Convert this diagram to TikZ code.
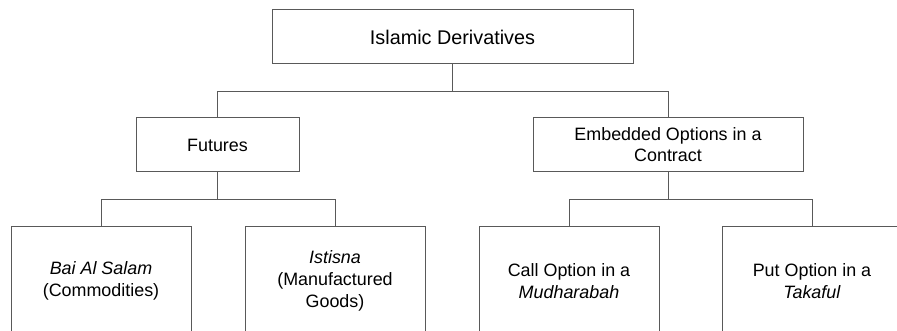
\documentclass[tikz,border=0pt]{standalone}
\usepackage{fontspec}
\setmainfont{Liberation Sans}
\definecolor{edge}{HTML}{595959}
\begin{document}
\begin{tikzpicture}[x=1pt,y=-1pt,
  box/.style={draw=edge,line width=1pt,fill=white,align=center,inner sep=0pt,
    font=\fontsize{17.9}{22}\selectfont,text=black},
  topbox/.style={box,minimum width=361pt,minimum height=54pt,font=\fontsize{19.8}{23}\selectfont},
  midbox/.style={box,minimum height=54pt},
  leafbox/.style={box,minimum width=180pt,minimum height=108pt},
  conn/.style={draw=edge,line width=1pt}]
\useasboundingbox (0,0) rectangle (897,331);
\clip (0,0) rectangle (897,331);
\node[topbox] (top) at (452.5,37) {Islamic Derivatives};
\node[midbox,minimum width=163pt] (fut) at (217.5,145) {Futures};
\node[midbox,minimum width=270pt,font=\fontsize{17.9}{21}\selectfont] (emb) at (668,145) {Embedded Options in a\\Contract};
\node[leafbox] (bai) at (101,281) {\textit{Bai Al Salam}\\(Commodities)};
\node[leafbox] (ist) at (335,281) {\textit{Istisna}\\(Manufactured\\Goods)};
\node[leafbox] (call) at (569,281) {Call Option in a\\\textit{Mudharabah}};
\node[leafbox] (put) at (812,281) {Put Option in a\\\textit{Takaful}};
\path[conn] (top.south) -- ++(0,27) coordinate (j1);
\path[conn] (fut.north) |- (j1) -| (emb.north);
\path[conn] (fut.south) -- ++(0,27) coordinate (j2);
\path[conn] (bai.north) |- (j2) -| (ist.north);
\path[conn] (emb.south) -- ++(0,27) coordinate (j3);
\path[conn] (call.north) |- (j3) -| (put.north);
\end{tikzpicture}
\end{document}
